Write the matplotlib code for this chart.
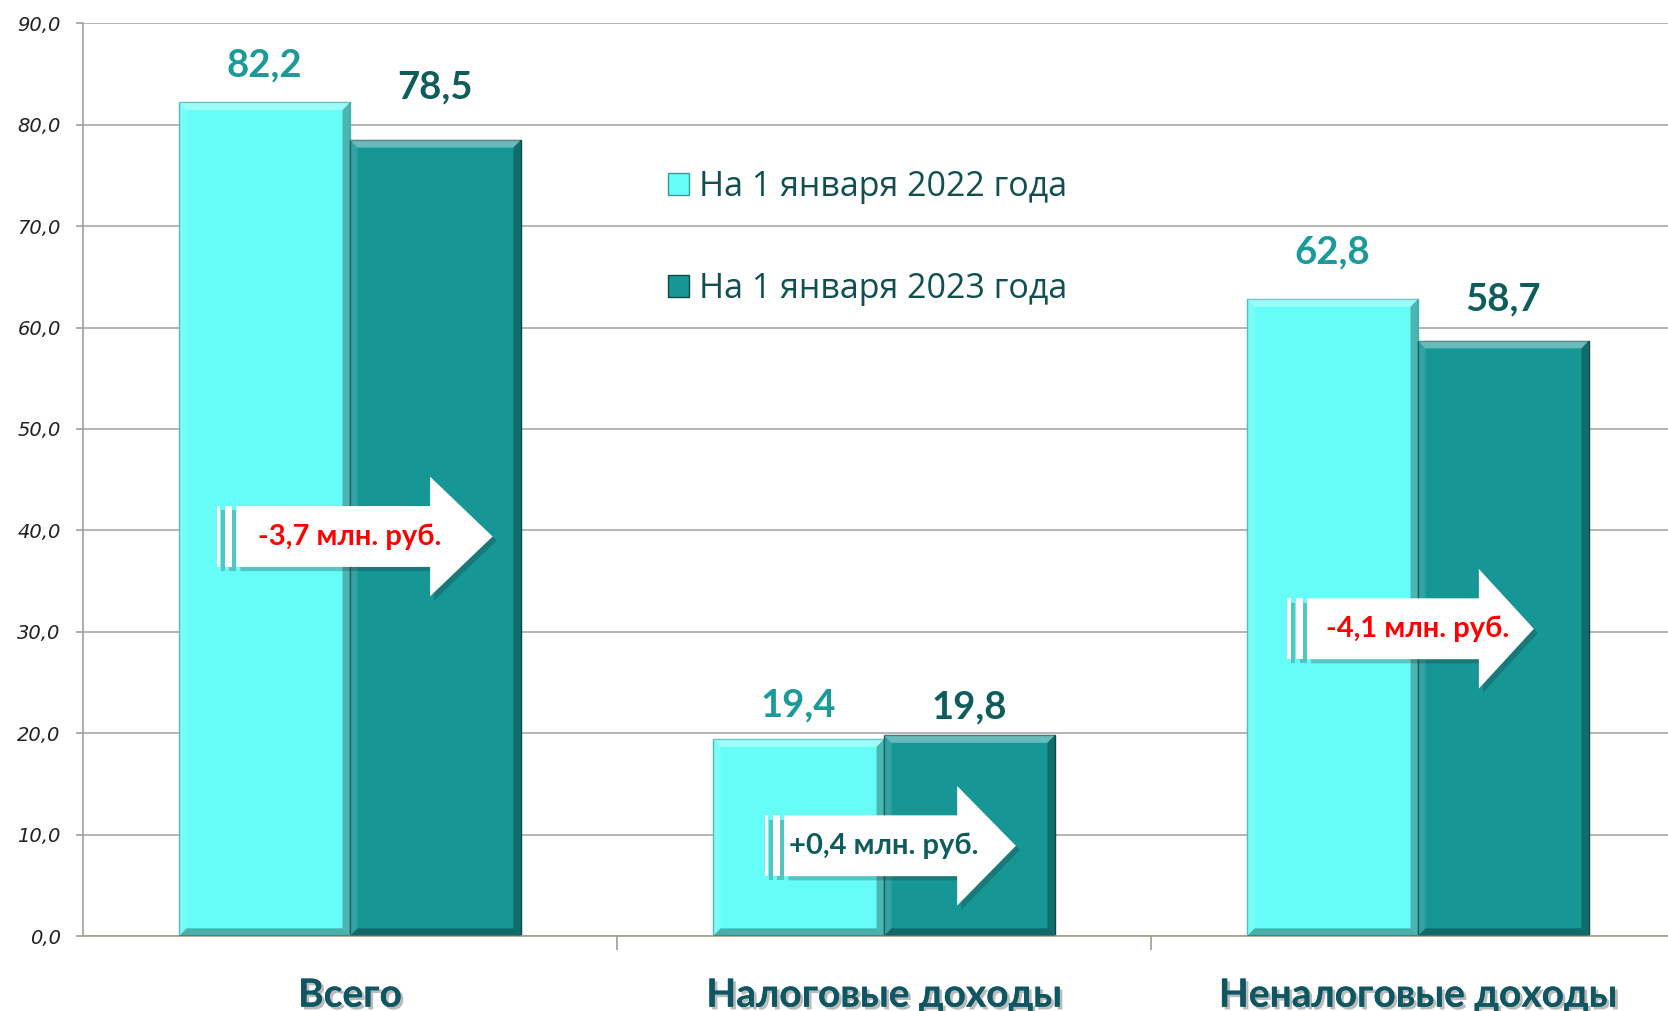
import matplotlib
matplotlib.use("Agg")
import matplotlib.pyplot as plt
import matplotlib.patheffects as pe
from matplotlib.patches import Polygon, Rectangle, Patch
import numpy as np

# data
categories = ['Всего', 'Налоговые доходы', 'Неналоговые доходы']
series_names = ['На 1 января 2022 года', 'На 1 января 2023 года']
values_2022 = [82.2, 19.4, 62.8]
values_2023 = [78.5, 19.8, 58.7]
changes = ['-3,7 млн. руб.', '+0,4 млн. руб.', '-4,1 млн. руб.']
yticks = [0, 10, 20, 30, 40, 50, 60, 70, 80, 90]

# styling / annotation placement
c_light = '#66fdf8'
c_dark = '#169796'
lab_light = '#1b9a9a'
lab_dark = '#0e5c5c'
cat_color = '#0f5663'
label_off = [[27, 38], [24, 20], [34, 30]]   # pt above bar top
arrow_y = [39.4, 8.9, 30.3]
arrow_x0 = [-0.213, -0.187, -0.208]
arrow_head = [0.150, 0.137, 0.114]
arrow_tip = [0.267, 0.247, 0.217]
bh, hh = 3.0, 5.9

def fmt(v):
    return ('%.1f' % v).replace('.', ',')

def bevel(ax, rect, dx=0.014, dy=0.75):
    # soft bevel look on a bar: light top/left, dark right/bottom
    x0, y0 = rect.get_x(), rect.get_y()
    x1, y1 = x0 + rect.get_width(), y0 + rect.get_height()
    sides = [
        ([(x0, y1), (x1, y1), (x1 - dx, y1 - dy), (x0 + dx, y1 - dy)], 'white', 0.35),
        ([(x0, y0), (x0, y1), (x0 + dx, y1 - dy), (x0 + dx, y0 + dy)], 'white', 0.12),
        ([(x1, y0), (x1, y1), (x1 - dx, y1 - dy), (x1 - dx, y0 + dy)], 'black', 0.28),
        ([(x0, y0), (x1, y0), (x1 - dx, y0 + dy), (x0 + dx, y0 + dy)], 'black', 0.30),
    ]
    for pts, c, a in sides:
        ax.add_patch(Polygon(pts, closed=True, facecolor=c, alpha=a, edgecolor='none', zorder=3))

fig = plt.figure(figsize=(16.68, 10.11), dpi=100)
ax = fig.add_axes([83/1668, 75/1011, 1602/1668, 912.6/1011])

x = np.arange(len(categories))
w = 0.32
b1 = ax.bar(x - w/2, values_2022, w, color=c_light, edgecolor='#44b5b2', linewidth=1, zorder=2)
b2 = ax.bar(x + w/2, values_2023, w, color=c_dark, edgecolor='#0b4a4a', linewidth=1, zorder=2)
for r in list(b1) + list(b2):
    bevel(ax, r)

for i in range(len(categories)):
    ax.annotate(fmt(values_2022[i]), (x[i] - w/2, values_2022[i]), xytext=(0, label_off[i][0]),
                textcoords='offset points', ha='center', va='center', fontsize=27.5,
                fontweight='bold', family='Lato', color=lab_light, zorder=5)
    ax.annotate(fmt(values_2023[i]), (x[i] + w/2, values_2023[i]), xytext=(0, label_off[i][1]),
                textcoords='offset points', ha='center', va='center', fontsize=27.5,
                fontweight='bold', family='Lato', color=lab_dark, zorder=5)

# change arrows
shadow = [pe.withSimplePatchShadow(offset=(3, -3), alpha=0.25, shadow_rgbFace='#222222')]
for i in range(len(categories)):
    cy = arrow_y[i]
    t0 = x[i] + arrow_x0[i]
    hs = x[i] + arrow_head[i]
    tp = x[i] + arrow_tip[i]
    pts = [(t0, cy - bh), (hs, cy - bh), (hs, cy - hh), (tp, cy),
           (hs, cy + hh), (hs, cy + bh), (t0, cy + bh)]
    ax.add_patch(Polygon(pts, closed=True, facecolor='white', edgecolor='none',
                         zorder=4, path_effects=shadow))
    for a, b in [(-0.0367, -0.0296), (-0.0206, -0.0075)]:
        ax.add_patch(Rectangle((t0 + a, cy - bh), b - a, 2*bh, facecolor='white',
                               edgecolor='none', zorder=4, path_effects=shadow))
    col = lab_dark if changes[i].startswith('+') else '#ff0000'
    ax.text(x[i], cy, changes[i], ha='center', va='center', fontsize=21,
            fontweight='bold', family='Lato', color=col, zorder=6)

ax.set_xlim(-0.5, 2.5)
ax.set_ylim(0, 90)
ax.set_yticks(yticks)
ax.set_yticklabels([fmt(v) for v in yticks], fontsize=14, style='italic',
                   family='DejaVu Sans', color='#222222')
ax.tick_params(axis='y', length=5, pad=11, color='#a0a0a0', width=1.2)
ax.yaxis.grid(True, color='#a8a8a8', linewidth=1.2)
ax.set_axisbelow(True)

ax.set_xticks(x)
ax.set_xticklabels(categories, fontsize=28, fontweight='bold', family='Lato', color=cat_color)
for t in ax.get_xticklabels():
    t.set_path_effects([pe.withSimplePatchShadow(offset=(2, -2), alpha=0.4, shadow_rgbFace='#555555'),
                        pe.Normal()])
ax.tick_params(axis='x', length=0, pad=30)
ax.set_xticks([0.5, 1.5], minor=True)
ax.tick_params(axis='x', which='minor', length=10, color='#a0a08c', width=1.2)

for s in ['top', 'right']:
    ax.spines[s].set_visible(False)
ax.spines['left'].set_color('#a0a0a0')
ax.spines['left'].set_linewidth(1.2)
ax.spines['bottom'].set_color('#a0a08c')
ax.spines['bottom'].set_linewidth(1.2)

handles = [Patch(facecolor=c_light, edgecolor='#3a9c99'), Patch(facecolor=c_dark, edgecolor='#0b4a4a')]
leg = fig.legend(handles, series_names, loc='upper left', bbox_to_anchor=(668/1668, 1 - 170/1011),
                 frameon=False, handlelength=0.62, handleheight=0.62,
                 handletextpad=0.3, labelspacing=2.0, borderpad=0, borderaxespad=0,
                 prop={'family': 'Open Sans', 'size': 24.5})
for t in leg.get_texts():
    t.set_color('#114f50')

fig.savefig('out.png', dpi=100)
